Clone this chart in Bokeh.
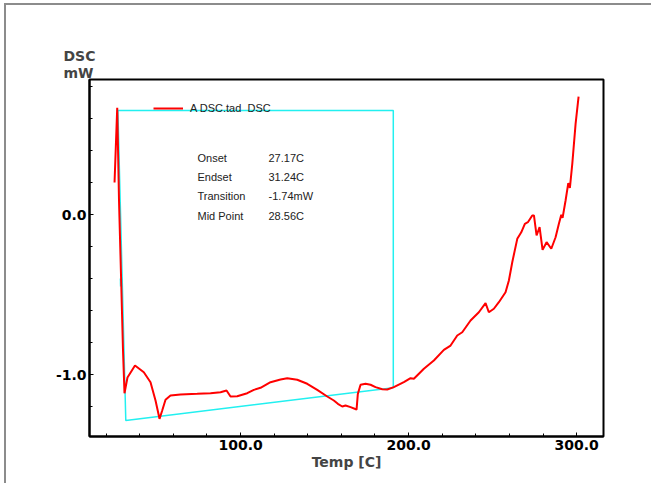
from bokeh.plotting import figure
from bokeh.models import FixedTicker, Label, Legend, LegendItem, Range1d, Title, InlineStyleSheet
from bokeh.embed import file_html
from bokeh.resources import INLINE

# DSC curve (Temp [C], DSC [mW])
temp = [25.0, 26.6, 27.66, 28.97, 30.04, 30.93, 32.7, 37.18, 42.42, 46.41, 49.39, 51.77,
        53.37, 55.34, 58.31, 64.27, 74.2, 82.12, 88.08, 91.65, 94.03, 98.02, 103.97,
        107.9, 111.88, 117.84, 123.79, 127.78, 133.73, 139.68, 145.63, 151.59, 155.52,
        157.9, 160.52, 162.48, 165.46, 169.03, 169.8, 171.41, 174.39, 177.36, 180.34,
        184.33, 187.3, 191.23, 197.18, 201.17, 203.14, 209.1, 215.04, 221.0, 224.98,
        228.96, 231.94, 236.88, 241.82, 245.81, 247.77, 250.75, 253.73, 257.7, 259.69,
        261.7, 264.68, 267.06, 269.2, 271.0, 273.6, 274.6, 276.17, 277.96, 279.74,
        282.12, 284.92, 287.48, 289.45, 290.87, 291.65, 293.43, 295.04, 296.0, 297.42,
        299.39, 301.17]
dsc = [0.20, 0.667, 0.0875, -0.425, -0.85, -1.117, -1.019, -0.944, -0.986, -1.048,
       -1.1625, -1.277, -1.225, -1.158, -1.131, -1.125, -1.121, -1.117, -1.111, -1.10,
       -1.1375, -1.136, -1.117, -1.096, -1.083, -1.048, -1.031, -1.023, -1.033, -1.058,
       -1.096, -1.1375, -1.1625, -1.183, -1.20, -1.194, -1.204, -1.219, -1.121, -1.064,
       -1.058, -1.064, -1.079, -1.092, -1.094, -1.079, -1.048, -1.023, -1.027, -0.964,
       -0.9125, -0.846, -0.819, -0.756, -0.736, -0.6625, -0.611, -0.554, -0.611, -0.589,
       -0.548, -0.486, -0.4125, -0.298, -0.152, -0.111, -0.058, -0.048, -0.006, -0.006,
       -0.131, -0.079, -0.221, -0.173, -0.214, -0.142, -0.058, -0.002, -0.021, 0.0875,
       0.196, 0.167, 0.317, 0.567, 0.7375]

# Transition analysis box (baseline construction)
box_x = [27.0, 190.9, 190.9, 31.7, 27.0]
box_y = [0.65, 0.65, -1.083, -1.2875, 0.65]
mid_x = [28.95, 29.05]
mid_y = [-0.40, -0.45]

x_major = [100, 200, 300]
x_minor = [20, 40, 60, 80, 100, 120, 140, 160, 180, 200, 220, 240, 260, 280, 300]
y_major = [0, -1]
y_minor = [-1.2, -1.0, -0.8, -0.6, -0.4, -0.2, 0.0, 0.2, 0.4, 0.6, 0.8]
x_labels = {100: "100.0", 200: "200.0", 300: "300.0"}
y_labels = {0: "0.0", -1: "-1.0"}

info_names = ["Onset", "Endset", "Transition", "Mid Point"]
info_values = ["27.17C", "31.24C", "-1.74mW", "28.56C"]

p = figure(width=647, height=480, output_backend="svg", toolbar_location=None,
           x_range=Range1d(10.1, 316.0), y_range=Range1d(-1.3875, 0.844),
           min_border_left=83, min_border_right=50, min_border_top=74,
           min_border_bottom=49, title=None)
p.stylesheets = [InlineStyleSheet(css=":host { border-left: 2px solid #8c8c8c; border-top: 2px solid #8c8c8c; margin-left: 4px; margin-top: 3px; }")]
p.grid.visible = False
p.background_fill_color = "white"
p.border_fill_color = "white"
p.outline_line_color = "black"
p.outline_line_width = 2

for ax in (p.xaxis[0], p.yaxis[0]):
    ax.axis_line_width = 2
    ax.axis_line_color = "black"
    ax.major_tick_in = 4
    ax.major_tick_out = 0
    ax.minor_tick_in = 3
    ax.minor_tick_out = 0
    ax.major_tick_line_color = "black"
    ax.minor_tick_line_color = "black"
    ax.major_label_text_font = "DejaVu Sans"
    ax.major_label_text_font_style = "bold"
    ax.major_label_text_font_size = "14px"
    ax.major_label_text_color = "black"

p.xaxis[0].ticker = FixedTicker(ticks=x_major, minor_ticks=x_minor)
p.yaxis[0].ticker = FixedTicker(ticks=y_major, minor_ticks=y_minor)
p.xaxis[0].major_label_overrides = x_labels
p.yaxis[0].major_label_overrides = y_labels
p.xaxis[0].major_label_standoff = 3
p.yaxis[0].major_label_standoff = 3
p.xaxis[0].axis_label = "Temp [C]"
p.xaxis[0].axis_label_text_font = "DejaVu Sans"
p.xaxis[0].axis_label_text_font_style = "bold"
p.xaxis[0].axis_label_text_font_size = "14px"
p.xaxis[0].axis_label_standoff = 1

p.line(box_x, box_y, line_color="#22f0f0", line_width=1.5)
p.line(mid_x, mid_y, line_color="#22f0f0", line_width=3)
r = p.line(temp, dsc, line_color="#ff0000", line_width=2)

legend = Legend(items=[LegendItem(label="A DSC.tad  DSC", renderers=[r])],
                location=(64, 322), padding=0, margin=0, spacing=0,
                glyph_width=30, glyph_height=12, label_height=12,
                label_standoff=7, label_text_font="Liberation Sans",
                label_text_font_size="11px", label_text_color="#222222",
                background_fill_alpha=0, border_line_alpha=0)
p.add_layout(legend)

# y-axis title drawn as two stacked titles above the frame
p.add_layout(Title(text="mW", align="left", offset=-26, standoff=-2,
                   text_font="DejaVu Sans", text_font_style="bold",
                   text_font_size="14px"), "above")
p.add_layout(Title(text="DSC", align="left", offset=-26, standoff=0,
                   text_font="DejaVu Sans", text_font_style="bold",
                   text_font_size="14px"), "above")

rows_y = [279, 260, 240.5, 221]
for name, val, yy in zip(info_names, info_values, rows_y):
    p.add_layout(Label(x=108, y=yy, x_units="screen", y_units="screen", text=name,
                       text_font="Liberation Sans", text_font_size="11px",
                       text_color="#222222", text_baseline="middle"))
    p.add_layout(Label(x=179, y=yy, x_units="screen", y_units="screen", text=val,
                       text_font="Liberation Sans", text_font_size="11px",
                       text_color="#222222", text_baseline="middle"))

open("out.html", "w").write(file_html(p, INLINE))
